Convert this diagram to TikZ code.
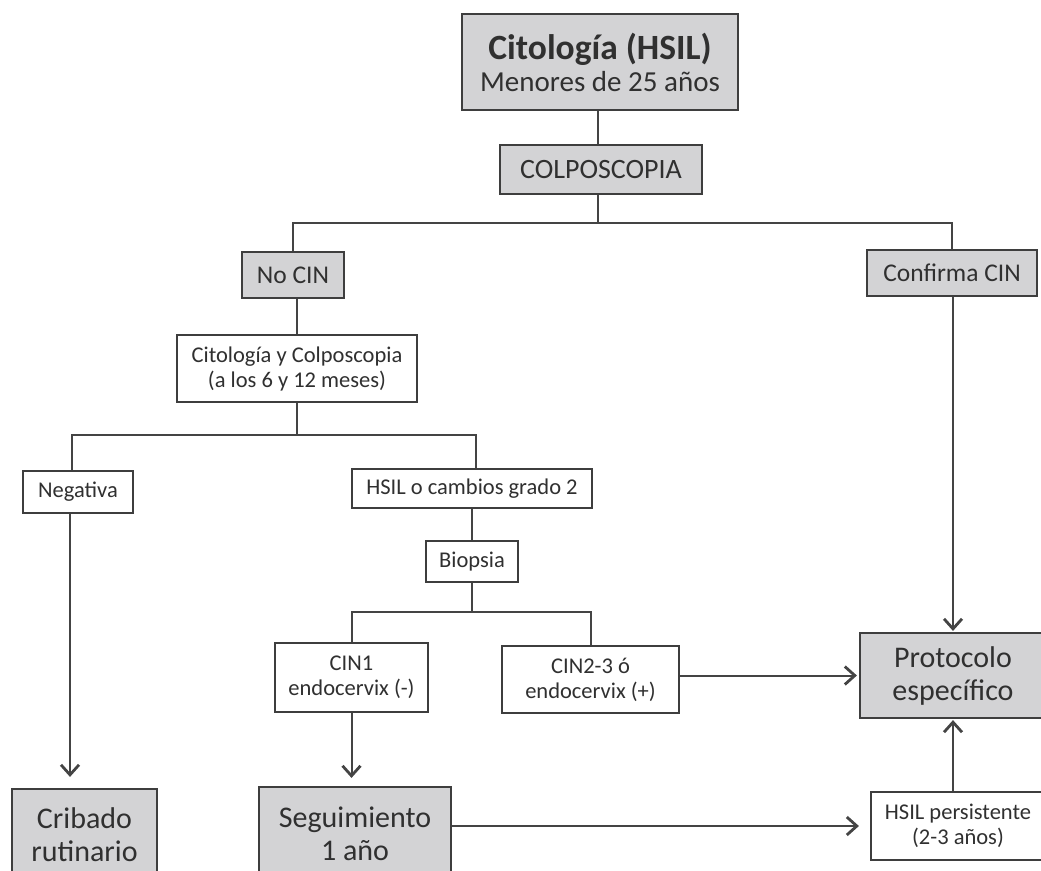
\documentclass[tikz,border=0pt]{standalone}
\usepackage{fontspec}
\setmainfont{Carlito}
\usetikzlibrary{arrows.meta}
\definecolor{boxgray}{RGB}{211,211,213}
\definecolor{edge}{RGB}{62,62,62}
\definecolor{txt}{RGB}{48,48,48}
\definecolor{connc}{RGB}{68,68,68}
\begin{document}
\begin{tikzpicture}[x=1pt,y=-1pt,
  box/.style={draw=edge, line width=2.2pt, text=txt, inner sep=0pt, align=center},
  graybox/.style={box, fill=boxgray},
  whitebox/.style={box, fill=white},
  conn/.style={draw=connc, line width=2pt},
  arr/.style={conn, -{Straight Barb[length=10pt,width=18pt,line width=2.8pt]}},
  fXL/.style={font=\fontsize{30}{33}\selectfont},
  fL/.style={font=\fontsize{28}{30}\selectfont},
  fM/.style={font=\fontsize{25.5}{28}\selectfont},
  fS/.style={font=\fontsize{22.5}{25}\selectfont},
]
\useasboundingbox (0,0) rectangle (1041,870);
\clip (0,0) rectangle (1041,870);

% nodes
\node[graybox, minimum width=276pt, minimum height=96pt, font=\fontsize{29}{32}\selectfont] (title) at (600,62)
  {\textbf{\fontsize{35.5}{32}\selectfont Citología (HSIL)}\\Menores de 25 años};
\node[graybox, fL, minimum width=202pt, minimum height=49pt] (colpo) at (601,169.5) {COLPOSCOPIA};
\node[graybox, fM, minimum width=102pt, minimum height=46pt] (nocin) at (293,275) {No CIN};
\node[graybox, fM, minimum width=170pt, minimum height=46pt] (confirma) at (952,273) {Confirma CIN};
\node[whitebox, fS, minimum width=240pt, minimum height=67pt] (cyc) at (297,368.5) {Citología y Colposcopia\\(a los 6 y 12 meses)};
\node[whitebox, fS, minimum width=110pt, minimum height=42pt] (neg) at (78,492) {Negativa};
\node[whitebox, fS, minimum width=240pt, minimum height=39pt] (hsil2) at (472,488.5) {HSIL o cambios grado 2};
\node[whitebox, fS, minimum width=92pt, minimum height=41pt] (biopsia) at (472,561.5) {Biopsia};
\node[whitebox, fS, minimum width=153pt, minimum height=69pt] (cin1) at (351.5,677.5) {CIN1\\endocervix (-)};
\node[whitebox, fS, minimum width=177pt, minimum height=67pt] (cin23) at (590.5,679.5) {CIN2-3 ó\\endocervix (+)};
\node[graybox, fXL, minimum width=186pt, minimum height=85pt] (proto) at (953,675.5) {Protocolo\\específico};
\node[whitebox, fS, minimum width=174pt, minimum height=68pt] (hsilp) at (958,826) {HSIL persistente\\(2-3 años)};
\node[graybox, fXL, minimum width=145pt, minimum height=92pt] (cribado) at (84.5,835) {Cribado\\rutinario};
\node[graybox, fXL, minimum width=192pt, minimum height=94pt] (seg) at (355,834) {Seguimiento\\1 año};

% junctions
\coordinate (j1) at (598,223);
\coordinate (j2) at (297,435);
\coordinate (j3) at (472,612);

% connectors
\draw[conn] (title.south -| j1) -- (colpo.north -| j1);
\draw[conn] (colpo.south -| j1) -- (j1);
\draw[conn] (nocin.north) -- (nocin.north |- j1) -- (confirma.north |- j1) -- (confirma.north);
\draw[conn] (cyc.north |- nocin.south) -- (cyc.north);
\draw[conn] (cyc.south) -- (j2);
\draw[conn] ([xshift=-6pt]neg.north) -- ([xshift=-6pt]neg.north |- j2) -- ([xshift=4pt]hsil2.north |- j2) -- ([xshift=4pt]hsil2.north);
\draw[arr, shorten >=11pt] ([xshift=-8pt]neg.south) -- ([xshift=-8pt]neg.south |- cribado.north);
\draw[conn] (hsil2.south) -- (biopsia.north);
\draw[conn] (biopsia.south) -- (j3);
\draw[conn] (cin1.north) -- (cin1.north |- j3) -- (cin23.north |- j3) -- (cin23.north);
\draw[arr, shorten >=2pt] (proto.west -| cin23.east) -- (proto.west);
\draw[arr, shorten >=1pt] (proto.north |- confirma.south) -- (proto.north);
\draw[arr, shorten >=8pt] (cin1.south) -- (cin1.south |- seg.north);
\draw[arr, shorten >=11pt] (hsilp.west -| seg.east) -- (hsilp.west);
\draw[arr, shorten >=1pt] (proto.south |- hsilp.north) -- (proto.south);
\end{tikzpicture}
\end{document}
